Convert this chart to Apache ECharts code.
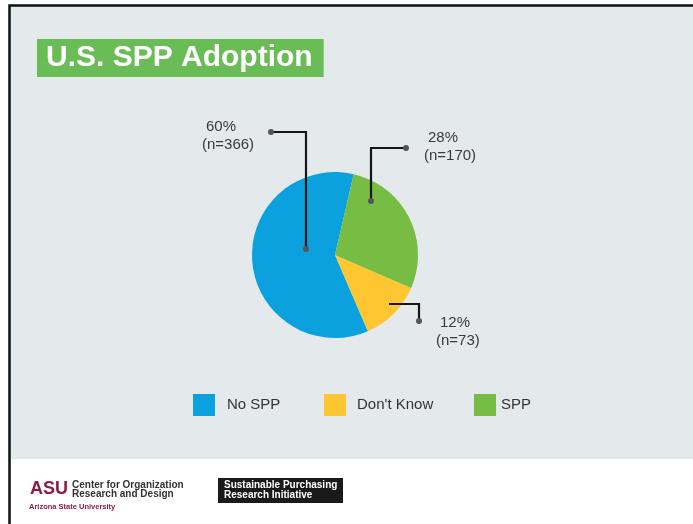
<!DOCTYPE html>
<html>
<head>
<meta charset="utf-8">
<script src="https://cdn.jsdelivr.net/npm/echarts@6/dist/echarts.min.js"></script>
<style>
  html, body { margin: 0; padding: 0; background: #fff; }
  #chart { width: 693px; height: 524px; }
</style>
</head>
<body>
<div id="chart"></div>
<script>
// data
const categories = ["No SPP", "Don't Know", "SPP"];
const counts = [366, 73, 170];

// styles / layout
const colors = ["#0aa1de", "#fec631", "#77bc43"];
const font = "Liberation Sans";
const pieCenter = [335, 255];
const pieRadius = 83;
// top-left of each label block
const labelSpots = [[202, 118], [436, 314], [424, 129]];
// leader lines as offsets from the pie centre; dots marks which ends get a dot
const leaders = [
  { pts: [[-64, -123], [-29, -123], [-29, -6]], dots: [0, 2] },
  { pts: [[54, 49], [84, 49], [84, 66]], dots: [2] },
  { pts: [[71, -107], [36, -107], [36, -54]], dots: [0, 2] },
];
const legendLeft = [193, 324, 474];
const legendPad = [7, 6, 0];

const chart = echarts.init(document.getElementById("chart"));

const graphics = [
  // grey slide panel
  { type: "rect", z: 0, shape: { x: 10, y: 6, width: 683, height: 453 }, style: { fill: "#e4e9eb" } },
  // frame
  { type: "polyline", z: 1, shape: { points: [[9.5, 524], [9.5, 5.5], [693, 5.5]] }, style: { stroke: "#111", lineWidth: 2.5, fill: null } },
];

leaders.forEach((ld) => {
  const pts = ld.pts.map((p) => [pieCenter[0] + p[0], pieCenter[1] + p[1]]);
  graphics.push({ type: "polyline", z: 50, shape: { points: pts }, style: { stroke: "#161616", lineWidth: 2.2, fill: null } });
  ld.dots.forEach((k) => {
    graphics.push({ type: "circle", z: 51, shape: { cx: pts[k][0], cy: pts[k][1], r: 3 }, style: { fill: "#555" } });
  });
});

// footer logos
graphics.push(
  { type: "text", z: 5, x: 30, y: 489, style: { text: "ASU", font: "900 18px " + font, fill: "#8c1d40", textVerticalAlign: "middle" } },
  { type: "text", z: 5, x: 72, y: 485, style: { text: "Center for Organization", font: "bold 10px " + font, fill: "#333", textVerticalAlign: "middle" } },
  { type: "text", z: 5, x: 72, y: 494.5, style: { text: "Research and Design", font: "bold 10px " + font, fill: "#333", textVerticalAlign: "middle" } },
  { type: "text", z: 5, x: 29, y: 506.5, style: { text: "Arizona State University", font: "bold 7.5px " + font, fill: "#8c1d40", textVerticalAlign: "middle" } },
  { type: "rect", z: 5, shape: { x: 218, y: 478, width: 125, height: 25 }, style: { fill: "#1a1a1a" } },
  { type: "text", z: 6, x: 224, y: 485.5, style: { text: "Sustainable Purchasing", font: "bold 10px " + font, fill: "#fff", textVerticalAlign: "middle" } },
  { type: "text", z: 6, x: 224, y: 495.5, style: { text: "Research Initiative", font: "bold 10px " + font, fill: "#fff", textVerticalAlign: "middle" } }
);

chart.setOption({
  backgroundColor: "#fff",
  color: colors,
  animation: false,
  title: {
    text: "U.S. SPP Adoption",
    left: 37,
    top: 39,
    backgroundColor: "#6abd56",
    padding: [4, 11, 4, 9],
    textStyle: { color: "#fff", fontSize: 30, fontWeight: "bold", fontFamily: font, lineHeight: 30 },
  },
  legend: categories.map((name, i) => ({
    data: [name],
    left: legendLeft[i],
    top: 394,
    padding: 0,
    icon: "rect",
    itemWidth: 22,
    itemHeight: 22,
    textStyle: { fontSize: 15, color: "#333", fontFamily: font, padding: [0, 0, 0, legendPad[i]] },
  })),
  graphic: graphics,
  series: [
    {
      type: "pie",
      center: pieCenter,
      radius: pieRadius,
      startAngle: 77,
      clockwise: false,
      percentPrecision: 0,
      itemStyle: { borderWidth: 0 },
      labelLine: { show: false },
      label: {
        show: true,
        position: "outside",
        fontFamily: font,
        formatter: (p) => "{p|" + p.percent + "%}\n{n|(n=" + p.value + ")}",
        rich: {
          p: { fontSize: 15, lineHeight: 18, color: "#3a3a3a", fontFamily: font, padding: [0, 0, 0, 4] },
          n: { fontSize: 15, lineHeight: 18, color: "#3a3a3a", fontFamily: font },
        },
      },
      labelLayout: (params) => {
        const s = labelSpots[params.dataIndex];
        return { x: s[0], y: s[1], align: "left", verticalAlign: "top" };
      },
      emphasis: { scale: false },
      data: categories.map((name, i) => ({ name: name, value: counts[i] })),
    },
  ],
});
</script>
</body>
</html>
